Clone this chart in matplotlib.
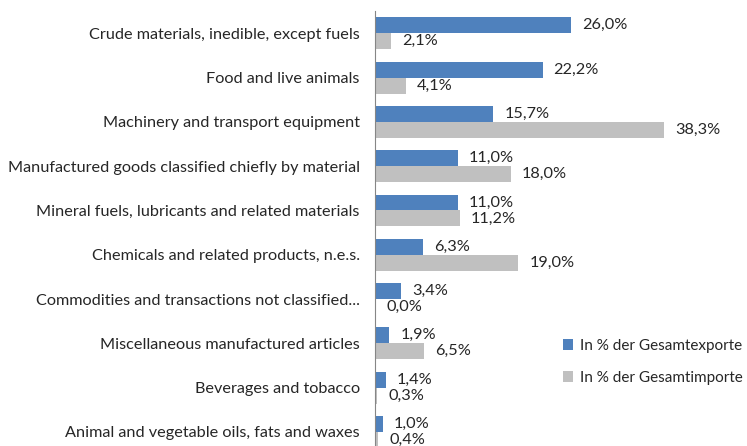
import matplotlib
matplotlib.use('Agg')
import matplotlib.pyplot as plt
import numpy as np

categories = [
    'Crude materials, inedible, except fuels',
    'Food and live animals',
    'Machinery and transport equipment',
    'Manufactured goods classified chiefly by material',
    'Mineral fuels, lubricants and related materials',
    'Chemicals and related products, n.e.s.',
    'Commodities and transactions not classified...',
    'Miscellaneous manufactured articles',
    'Beverages and tobacco',
    'Animal and vegetable oils, fats and waxes',
]
exports = [26.0, 22.2, 15.7, 11.0, 11.0, 6.3, 3.4, 1.9, 1.4, 1.0]
imports = [2.1, 4.1, 38.3, 18.0, 11.2, 19.0, 0.0, 6.5, 0.3, 0.4]

plt.rcParams['font.family'] = ['Lato', 'DejaVu Sans']

fig = plt.figure(figsize=(7.47, 4.46), dpi=100)
ax = fig.add_axes([375 / 747, -0.018, 1 - 375 / 747, 0.993])

y = np.arange(len(categories))
h = 0.36
b1 = ax.barh(y - h / 2, exports, height=h, color='#4F81BD', label='In % der Gesamtexporte')
b2 = ax.barh(y + h / 2, imports, height=h, color='#C0C0C0', label='In % der Gesamtimporte')

def fmt(v):
    return f'{v:.1f}%'.replace('.', ',')

for bars, vals in ((b1, exports), (b2, imports)):
    for bar, v in zip(bars, vals):
        ax.annotate(fmt(v), (v, bar.get_y() + bar.get_height() / 2),
                    xytext=(8, 0), textcoords='offset points',
                    va='center', ha='left', fontsize=11.7, color='#262626')

ax.set_xlim(0, 49.3)
ax.set_ylim(len(categories) - 0.5, -0.5)
ax.set_yticks(y)
ax.set_yticklabels(categories, fontsize=11.7, color='#262626')
ax.tick_params(axis='y', length=0, pad=11)
ax.set_xticks([])
for s in ('top', 'right', 'bottom'):
    ax.spines[s].set_visible(False)
ax.spines['left'].set_color('#868686')

fig.legend(loc='center left', bbox_to_anchor=(549 / 747, 1 - 362 / 446),
           frameon=False, fontsize=11, handlelength=0.7, handleheight=0.7,
           handletextpad=0.4, labelspacing=1.2, labelcolor='#262626')

fig.savefig('out.png', dpi=100)
